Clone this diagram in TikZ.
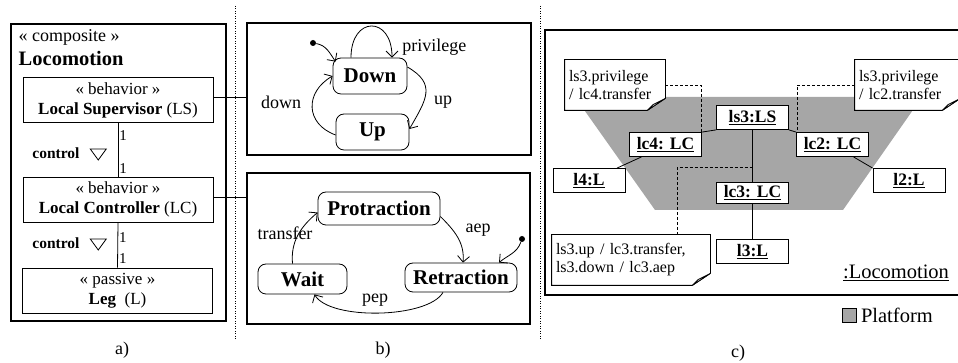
\documentclass[tikz,border=0pt]{standalone}
\usepackage{fontspec}
\setmainfont{Liberation Serif}
\usetikzlibrary{arrows.meta,backgrounds}

\newcommand{\sz}[2]{\fontsize{#1}{#2}\selectfont}
\definecolor{platgray}{gray}{0.65}

\tikzset{
  panel/.style={draw,line width=2.2pt,inner sep=0pt},
  cbox/.style={draw,line width=0.8pt,minimum width=190pt,minimum height=45pt,
    align=center,font=\sz{17}{20}},
  mult/.style={font=\sz{15}{15},inner sep=1pt},
  ctl/.style={font=\bfseries\sz{15.5}{15.5}},
  state/.style={draw,rounded corners=8pt,line width=0.8pt,font=\bfseries\sz{21}{21}},
  init/.style={circle,fill,inner sep=0pt,minimum size=6pt},
  trans/.style={font=\sz{18}{18},inner sep=1pt},
  obj/.style={draw,fill=white,line width=0.8pt,minimum width=72pt,minimum height=24pt,
    inner sep=1pt,font=\bfseries\sz{17.5}{17.5}},
  note/.style={align=left,minimum height=50pt,inner sep=4pt,font=\sz{16}{18}},
  notebox/.style={draw,fill=white,line width=0.8pt},
  link/.style={dashed,dash pattern=on 3pt off 2pt,line width=0.7pt},
  sepline/.style={dash pattern=on 1pt off 1.5pt,line width=0.8pt},
  captxt/.style={font=\sz{18}{18}}
}

\begin{document}
\begin{tikzpicture}[x=1pt,y=1pt,line width=0.8pt,>={Straight Barb[length=6pt,width=12pt]}]
  \useasboundingbox (0,0) rectangle (958,363);

  % a)
  \node[panel,minimum width=215pt,minimum height=297pt] (comp) at (118.5,190.5) {};
  \node[anchor=west,font=\sz{18}{18}] (stereo) at (15,326) {« composite »};
  \node[anchor=west,font=\bfseries\sz{20.5}{20.5}] (title) at (15,305) {Locomotion};
  \node[cbox] (ls) at (118,263) {« behavior »\\\textbf{Local Supervisor} (LS)};
  \node[cbox] (lc) at (118,163.5) {« behavior »\\\textbf{Local Controller} (LC)};
  \node[cbox] (leg) at (117.5,72.5) {« passive »\\\textbf{Leg}~~(L)};

  \draw (ls.south) -- (lc.north)
    node[mult,right,pos=0.24] {1} node[mult,right,pos=0.85] {1};
  \draw (lc.south) -- (leg.north)
    node[mult,right,pos=0.33] {1} node[mult,right,pos=0.8] {1};

  \node[ctl] (ctl1) at (56,210) {control};
  \node[ctl] (ctl2) at (56,120) {control};
  \foreach \c in {ctl1,ctl2}
    \draw ([shift={(7,4)}]\c.east) -- ++(16,0) -- ++(-8,-11) -- cycle;

  \node[captxt] (capa) at (122,13) {a)};

  \foreach \x in {235,540}
    \draw[sepline] (\x,357) -- (\x,23);

  % b)
  \node[panel,minimum width=284pt,minimum height=132pt] (smls) at (389,274) {};
  \node[panel,minimum width=283pt,minimum height=151pt] (smlc) at (388.5,114.5) {};
  \draw ([yshift=3pt]ls.east) -- ([yshift=3pt]ls.east -| smls.west);
  \draw ([yshift=2pt]lc.east) -- ([yshift=2pt]lc.east -| smlc.west);

  \node[state,minimum width=74pt,minimum height=36pt] (down) at (370,287) {Down};
  \node[state,minimum width=73pt,minimum height=36pt] (up) at (372.5,231) {Up};
  \node[init] (i1) at (313,320) {};

  \draw[->] (i1) to[out=-10,in=125] ([shift={(3,-4)}]down.north west);
  \draw[->] ([xshift=-19pt]down.north) .. controls +(0,42) and +(0,42) .. ([xshift=22pt]down.north);
  \draw[->] ([yshift=9pt]down.east) to[out=-30,in=60,looseness=1.4] ([yshift=3pt]up.east);
  \draw[->] ([yshift=-3pt]up.west) to[out=160,in=-150,looseness=1.4] (down.west);
  \node[trans,anchor=west] (lpriv) at (401,316) {privilege};
  \node[trans] (lup) at (443,261) {up};
  \node[trans] (ldown) at (281,261) {down};

  \node[state,minimum width=122pt,minimum height=33pt] (protr) at (379,154.5) {Protraction};
  \node[state,minimum width=89pt,minimum height=30pt] (wait) at (302.5,84) {Wait};
  \node[state,minimum width=112pt,minimum height=29pt] (retr) at (461,85.5) {Retraction};
  \node[init] (i2) at (522,124) {};

  \draw[->] (i2) to[out=-110,in=40] ([xshift=38pt]retr.north);
  \draw[->] ([yshift=-8pt]protr.east) to[out=-45,in=85] ([xshift=2pt]retr.north);
  \draw[->] ([xshift=-18pt]retr.south) to[out=-120,in=-60,looseness=0.6] ([xshift=12pt]wait.south);
  \draw[->] ([xshift=-10pt]wait.north) to[out=95,in=-140] ([yshift=-4pt]protr.west);
  \node[trans] (ltransfer) at (285,130) {transfer};
  \node[trans] (laep) at (478,133) {aep};
  \node[trans] (lpep) at (375,63) {pep};

  \node[captxt] (capb) at (383,13) {b)};

  % c)
  \node[panel,minimum width=435pt,minimum height=265pt] (loco) at (762.5,200.5) {};

  \node[obj] (ls3) at (752.5,245.5) {\underline{ls3:LS}};
  \node[obj] (lc4) at (665.5,218.5) {\underline{lc4: LC}};
  \node[obj] (lc2) at (832.5,218.5) {\underline{lc2: LC}};
  \node[obj] (l4) at (589,182.5) {\underline{l4:L}};
  \node[obj] (l2) at (909,182.5) {\underline{l2:L}};
  \node[obj,minimum height=21pt] (lc3) at (752.5,170) {\underline{lc3: LC}};
  \node[obj] (l3) at (752.5,111.5) {\underline{l3:L}};

  \draw (ls3.south west) -- (lc4.north east);
  \draw (ls3.south east) -- (lc2.north west);
  \draw (ls3) -- (lc3);
  \draw (lc3) -- (l3);
  \draw ([xshift=-24pt]lc4.south) -- ([xshift=28pt]l4.north);
  \draw ([xshift=21pt]lc2.south) -- (l2.north west);

  \node[note,text width=92pt] (n4) at (615,278) {ls3.privilege\\/ lc4.transfer};
  \node[note,text width=97pt] (n2) at (907.5,278) {ls3.privilege\\/ lc2.transfer};
  \node[note,text width=150pt] (n3) at (631,103) {ls3.up / lc3.transfer,\\ls3.down / lc3.aep};

  \begin{scope}[on background layer]
    \fill[platgray] (575,266) -- (922,266) -- (843,153) -- (655,153) -- cycle;
    \foreach \n in {n4,n2,n3}
      \draw[notebox] (\n.north west) -- (\n.north east) -- ([yshift=12pt]\n.south east)
        -- ([xshift=-18pt]\n.south east) -- (\n.south west) -- cycle;
  \end{scope}
  \foreach \n in {n4,n2,n3}
    \draw[fill=gray!20] ([yshift=12pt]\n.south east) -- ([shift={(-12,6)}]\n.south east)
      -- ([xshift=-18pt]\n.south east) -- cycle;

  \coordinate (tap) at ([yshift=15pt]lc3.north);
  \draw[link] (n4.east) -| ([xshift=-1pt]lc4.north east);
  \draw[link] (n2.west) -| ([xshift=1pt]lc2.north west);
  \draw[link] ([xshift=46pt]n3.north) |- (tap);

  \node[font=\sz{20.5}{20.5}] (lname) at (896,90) {\underline{:Locomotion}};
  \node[draw,line width=1.6pt,fill=platgray,minimum size=14pt,inner sep=0pt] (key) at (849.5,47.5) {};
  \node[anchor=west,font=\sz{20.5}{20.5}] (keytxt) at (key.east) {Platform};

  \node[captxt] (capc) at (738,10) {c)};
\end{tikzpicture}
\end{document}
